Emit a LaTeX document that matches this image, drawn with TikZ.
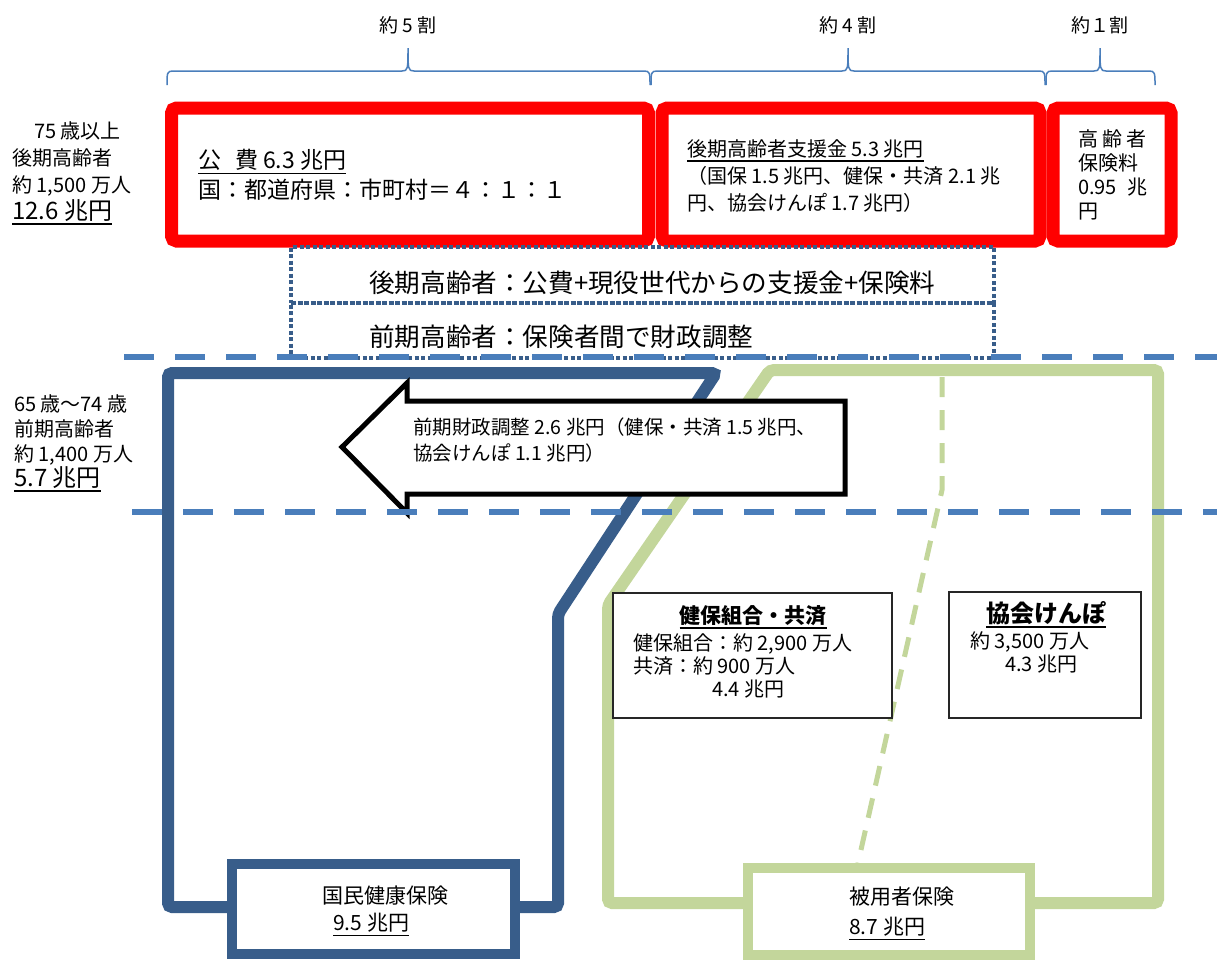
\documentclass[tikz,border=0pt]{standalone}
\usepackage{fontspec}
\setmainfont{Noto Sans CJK JP}
\usepackage{tikz}
\definecolor{kokuhoblue}{HTML}{385D8A}
\definecolor{lineblue}{HTML}{4A7EBB}
\definecolor{hiyogreen}{HTML}{C3D69B}
% thick underline for the amounts
\newcommand{\uln}[1]{\vtop{\hbox{#1}\kern2pt\hrule height 1.8pt}}

\begin{document}
\begin{tikzpicture}[x=1pt, y=-1pt,
    txt/.style={inner sep=0pt, align=left},
    share/.style={inner sep=0pt, font=\fontsize{19}{22}\selectfont},
    sharebrace/.style={draw=lineblue, line width=1.5pt},
    redbox/.style={draw=red, line width=13pt, rounded corners=5pt, minimum height=133pt},
    band/.style={draw=kokuhoblue, line width=4pt, dash pattern=on 4pt off 2.5pt, minimum width=703pt},
    ageline/.style={draw=lineblue, line width=6pt, dash pattern=on 30pt off 21pt},
    kokuhoframe/.style={draw=kokuhoblue, line width=12pt, rounded corners=4pt},
    hiyoframe/.style={draw=hiyogreen, line width=12pt, rounded corners=4pt},
    hiyosep/.style={draw=hiyogreen, line width=5pt, dash pattern=on 20pt off 13pt},
    infobox/.style={draw=black!85, line width=1.5pt, fill=white},
    choseiarrow/.style={draw=black, line width=5pt, fill=white, line join=miter}]

  \useasboundingbox (0,0) rectangle (1217,959);

  % shares of the late elderly fund
  \foreach \xa/\xm/\xb in {167/408/650, 651/848/1045, 1046/1100/1155}
    \draw[sharebrace] (\xa,85) .. controls (\xa,73) and (\xa,71) .. ({\xa+6},71)
      -- ({\xm-6},71) .. controls (\xm,71) and (\xm,69) .. (\xm,48)
      .. controls (\xm,69) and (\xm,71) .. ({\xm+6},71)
      -- ({\xb-6},71) .. controls (\xb,71) and (\xb,73) .. (\xb,85);
  \node[share] (fiveten) at (408,25) {約 5 割};
  \node[share] (fourten) at (848,25) {約 4 割};
  \node[share] (oneten) at (1100,25) {約１割};

  \node[redbox, minimum width=477pt] (kouhibox) at (410,174.5) {};
  \node[redbox, minimum width=378pt] (shienbox) at (851,174.5) {};
  \node[redbox, minimum width=118pt] (hokenbox) at (1112,174.5) {};
  \node[txt, anchor=north west, font=\fontsize{23}{30}\selectfont] (kouhitext) at (198,149)
    {\uln{公\hspace{0.6em}費 6.3 兆円}\\国：都道府県：市町村＝４：１：１};
  \node[txt, anchor=north west, font=\fontsize{20}{27}\selectfont] (shientext) at (687,139)
    {\uln{後期高齢者支援金 5.3 兆円}\\（国保 1.5 兆円、健保・共済 2.1 兆\\円、協会けんぽ 1.7 兆円）};
  \node[txt, anchor=north west, font=\fontsize{20}{24}\selectfont] (hokentext) at (1078,129)
    {高\hspace{4pt}齢\hspace{4pt}者\\保険料\\0.95\enspace 兆\\円};

  % how each group is funded
  \node[band, minimum height=56pt] (lateband) at (642.5,275) {};
  \node[band, minimum height=55pt] (earlyband) at (642.5,330.5) {};
  \node[txt, anchor=west, font=\fontsize{25.6}{30}\selectfont] (latetitle) at (369,283)
    {後期高齢者：公費+現役世代からの支援金+保険料};
  \node[txt, anchor=west, font=\fontsize{25.6}{30}\selectfont] (earlytitle) at (369,337)
    {前期高齢者：保険者間で財政調整};

  % the two insurance systems
  \node[draw=kokuhoblue, line width=10pt, fill=white, minimum width=283pt, minimum height=90pt] (kokuhobox) at (373.5,909) {};
  \draw[kokuhoframe] (kokuhobox.west |- 0,907) -| (168,373) -- (716,373) -- (558,614) |- (kokuhobox.east |- 0,907);
  \node[draw=hiyogreen, line width=10pt, fill=white, minimum width=282pt, minimum height=87pt] (hiyobox) at (889,911.5) {};
  \draw[hiyoframe] (hiyobox.west |- 0,903) -| (608,605) -- (770,370) -- (1158,370) |- (hiyobox.east |- 0,903);
  \draw[hiyosep] (942,377) -- (942,490) -- (858,863);
  \node[txt, anchor=north west, font=\fontsize{21}{27}\selectfont] (kokuhotext) at (322,886)
    {国民健康保険\\\hspace*{11pt}\uln{9.5 兆円}};
  \node[txt, anchor=north west, font=\fontsize{21}{30}\selectfont] (hiyotext) at (849,887)
    {被用者保険\\\uln{8.7 兆円}};

  \node[infobox, minimum width=279pt, minimum height=125pt] (kenpobox) at (752.5,655.5) {};
  \node[inner sep=0pt, anchor=base, font=\bfseries\fontsize{21}{25}\selectfont] (kenpotitle) at (753,623)
    {\uln{健保組合・共済}};
  \node[txt, anchor=north west, font=\fontsize{20}{23}\selectfont] (kenpotext) at (633,633)
    {健保組合：約 2,900 万人\\共済：約 900 万人\\\hspace*{79pt}4.4 兆円};
  \node[infobox, minimum width=192pt, minimum height=126pt] (kyokaibox) at (1045,655) {};
  \node[inner sep=0pt, anchor=base, font=\bfseries\fontsize{24}{28}\selectfont] (kyokaititle) at (1046,622)
    {\uln{協会けんぽ}};
  \node[txt, anchor=north west, font=\fontsize{20}{23}\selectfont] (kyokaitext) at (970,631)
    {約 3,500 万人\\\hspace*{35pt}4.3 兆円};

  % early elderly adjustment
  \draw[choseiarrow] (342,447) -- (407,383) -- (407,401) -- (845,401) -- (845,494) -- (407,494) -- (407,513) -- cycle;
  \node[txt, anchor=north west, font=\fontsize{19.5}{26}\selectfont] (choseitext) at (413,418)
    {前期財政調整 2.6 兆円（健保・共済 1.5 兆円、\\協会けんぽ 1.1 兆円）};

  \draw[ageline] (124,357) -- (1217,357);
  \draw[ageline] (132,512) -- (1217,512);

  \node[txt, anchor=north west, font=\fontsize{20}{27}\selectfont] (latetext) at (12,121)
    {\hspace*{22pt}75 歳以上\\後期高齢者\\約 1,500 万人\\{\fontsize{24}{27}\selectfont\uln{12.6 兆円}}};
  \node[txt, anchor=north west, font=\fontsize{20}{25}\selectfont] (earlytext) at (14,394)
    {65 歳～74 歳\\前期高齢者\\約 1,400 万人\\{\fontsize{24}{25}\selectfont\uln{5.7 兆円}}};
\end{tikzpicture}
\end{document}
